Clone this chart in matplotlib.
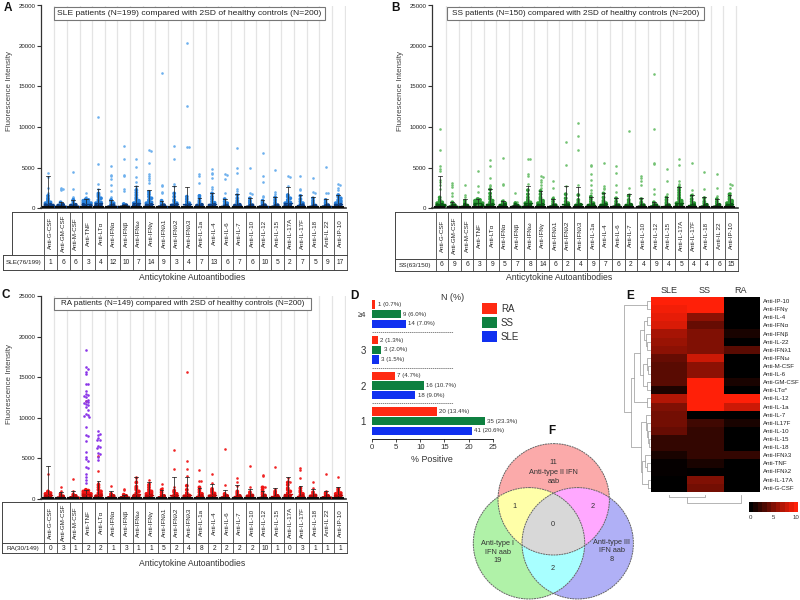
import numpy as np
import matplotlib
matplotlib.use('Agg')
import matplotlib.pyplot as plt
from matplotlib.colors import LinearSegmentedColormap
from matplotlib.patches import Circle, Rectangle

plt.rcParams['font.family'] = ['Liberation Sans', 'DejaVu Sans']

W, H = 800, 600

cyto_ab = ['Anti-G-CSF', 'Anti-GM-CSF', 'Anti-M-CSF', 'Anti-TNF', 'Anti-LTα', 'Anti-IFNα', 'Anti-IFNβ', 'Anti-IFNω',
           'Anti-IFNγ', 'Anti-IFNλ1', 'Anti-IFNλ2', 'Anti-IFNλ3', 'Anti-IL-1a', 'Anti-IL-4', 'Anti-IL-6', 'Anti-IL-7',
           'Anti-IL-10', 'Anti-IL-12', 'Anti-IL-15', 'Anti-IL-17A', 'Anti-IL-17F', 'Anti-IL-18', 'Anti-IL 22', 'Anti-IP-10']

sle_counts = [1, 6, 6, 3, 4, 12, 10, 7, 14, 9, 3, 4, 7, 13, 6, 7, 6, 10, 5, 2, 7, 5, 9, 17]
ss_counts = [6, 9, 6, 3, 9, 5, 7, 8, 14, 6, 2, 4, 9, 7, 6, 2, 4, 9, 4, 5, 4, 4, 6, 15]
ra_counts = [0, 3, 1, 2, 2, 1, 3, 1, 1, 5, 2, 4, 8, 2, 2, 2, 2, 10, 1, 0, 3, 1, 1, 1]

# upper end of the SD bars
sle_sd = [4000, 800, 1000, 1100, 2300, 1000, 400, 2700, 2200, 900, 2700, 2600, 1200, 1800, 1100, 1700, 1200, 1000, 1400, 2600, 1600, 1300, 1100, 1600]
ss_sd = [4000, 800, 1100, 1100, 2400, 900, 400, 2700, 2100, 1100, 2700, 2600, 1400, 1800, 1200, 1700, 1200, 800, 1400, 2600, 1600, 1300, 1100, 1600]
ra_sd = [4000, 800, 1000, 1100, 2200, 900, 400, 2700, 2000, 1100, 2700, 2700, 1300, 1800, 1100, 1700, 1200, 1000, 1300, 2700, 1600, 1200, 1000, 1500]

sle_mean = [450, 150, 200, 550, 600, 250, 120, 650, 550, 250, 450, 450, 300, 450, 250, 350, 300, 200, 300, 600, 350, 250, 250, 500]
ss_mean = [500, 150, 200, 600, 550, 250, 120, 600, 550, 250, 450, 450, 350, 450, 250, 350, 250, 200, 300, 600, 350, 250, 250, 550]
ra_mean = [450, 150, 200, 550, 500, 220, 120, 550, 500, 250, 400, 450, 350, 450, 250, 300, 250, 220, 280, 550, 350, 220, 220, 500]

# readings above the dense part of each column
sle_high = [[4300, 3800, 2500, 1900], [2500, 2400, 2300, 2200], [4500, 2400, 1400, 1200], [1800, 1300],
            [11200, 5400, 3000, 2400], [5200, 4100, 3900, 3600, 2900, 2100, 1400], [7600, 6000, 4100, 3900, 2400, 2100],
            [6000, 5100, 3800, 3200, 2700, 2500], [7100, 7000, 5600, 4200, 4000, 3700, 3500, 3100], [16700, 2800, 2700, 2000, 1800],
            [7700, 6100, 3000, 2700], [20400, 12600, 7500, 7500], [4200, 4000, 3100, 1600], [4800, 4300, 4200, 3700, 2600, 2300],
            [4200, 4100, 3600, 1800], [7400, 5000, 4300, 2300, 2100], [5000, 1800, 1700], [6800, 3900, 3200, 1500, 1300],
            [4700, 2000, 1700], [3900, 3800, 2700], [3900, 2300, 2200], [3700, 2000, 1900], [5100, 1800, 1800], [3000, 2900, 2500, 2200]]
ss_high = [[9800, 7100, 5200, 4800, 4600, 3500, 3200, 2800, 2400], [3100, 2900, 2600, 1900, 1500], [2900, 1600, 1400], [4600, 2700, 2000, 1200],
           [5900, 5200, 3700, 2900, 2700], [6200, 3000, 2800, 1000], [1800, 800, 700], [6100, 6000, 4200, 3900, 3000],
           [3900, 3800, 3500, 3200, 2800, 2500], [3300, 2500, 1300], [8200, 5300, 2700], [10500, 8900, 7100, 2800],
           [5300, 5200, 4200, 3500, 2900, 2200, 1800], [5500, 2700, 2500, 2300], [5200, 4300, 2800, 2000], [9500, 2500, 1700],
           [3900, 3700, 3300, 2900], [16600, 9700, 5500, 5400, 2400, 1700], [4800, 3300, 1700], [6000, 5300, 3300, 3000, 2800],
           [5500, 2200, 1700], [4500, 2400, 1300], [4200, 2500, 1500], [3000, 2900, 2500, 1900]]
ra_high = [[3100], [1400, 900], [2400, 900], [12000, 1100], [5300, 3400, 1900], [1600], [1200, 1100], [2700, 2500, 2200],
           [2300, 1900], [1800, 1300], [6000, 3700, 1500], [15600, 4700, 3700, 2800], [3500, 2200, 2200, 1500], [3100, 1900],
           [6100, 1700], [2500, 2000, 1600], [4000, 1400], [2900, 2800, 1500, 1400], [3900, 1200], [2500, 2200, 2100],
           [3800, 3500, 2500, 1500], [2000, 1300], [3000, 900, 800], [2700, 1300]]

# the positive anti-TNF / anti-LTa readings marked purple in panel C
ra_tnf_purple = [18400, 16300, 16000, 15600, 15400, 14200, 14100, 13300, 12900, 12800, 12700, 12500, 12200, 12000, 11900, 11800,
                 11700, 11500, 11300, 11000, 10400, 10300, 10200, 10100, 8800, 7800, 7700, 7100, 5700, 5200, 4900, 4700, 3900,
                 3800, 3000, 2700, 2300, 1900]
ra_lta_purple = [8300, 8000, 7800, 7500, 7300, 7200, 6500, 6400, 6300, 5600, 5500, 5200, 4800]

# dense part of each column, read roughly
sle_low = [[1500, 1200, 1000, 800, 700, 600, 500, 400, 350, 300, 200, 150, 100], [700, 550, 400, 300, 200, 150, 100, 80, 50],
           [1000, 800, 500, 400, 300, 200, 150, 100, 80], [1100, 1000, 900, 800, 700, 650, 600, 500, 450, 400, 300, 200],
           [1800, 1600, 1400, 1200, 1000, 800, 700, 600, 500, 400, 300, 200, 100], [1000, 800, 600, 450, 350, 250, 150, 100, 60],
           [500, 350, 250, 150, 100, 80, 50], [2200, 1900, 1600, 1300, 1100, 900, 800, 700, 600, 500, 400, 300, 200, 100],
           [2000, 1700, 1400, 1200, 1000, 800, 700, 600, 500, 400, 300, 200, 100], [900, 700, 500, 350, 250, 150, 100, 60],
           [1800, 1400, 1000, 800, 600, 500, 400, 300, 200, 100], [1400, 1100, 800, 600, 500, 350, 250, 150, 100],
           [1500, 1200, 900, 700, 500, 400, 300, 200, 100], [1800, 1400, 1100, 800, 650, 500, 400, 300, 200, 100],
           [1100, 800, 600, 450, 300, 200, 100, 60], [1600, 1200, 900, 700, 550, 400, 300, 200, 100],
           [1200, 900, 700, 500, 350, 250, 150, 80], [900, 700, 500, 350, 250, 150, 100, 60], [1300, 1000, 700, 500, 350, 250, 150, 80],
           [1600, 1400, 1200, 1000, 800, 700, 600, 500, 400, 300, 200, 100], [1500, 1100, 800, 600, 450, 350, 250, 150, 80],
           [1200, 900, 650, 450, 300, 200, 100, 60], [1000, 700, 500, 350, 250, 150, 100, 60],
           [1600, 1400, 1200, 1000, 900, 800, 700, 600, 500, 400, 300, 200, 100]]
ss_low = [[1300, 1000, 800, 700, 600, 500, 400, 350, 300, 200, 100], [700, 500, 350, 250, 150, 100, 60], [900, 600, 400, 300, 200, 100, 60],
          [1100, 1000, 900, 800, 700, 650, 600, 500, 450, 400, 300], [2300, 1800, 1400, 1100, 900, 700, 600, 500, 400, 300, 200, 100],
          [800, 600, 500, 400, 300, 200, 100], [600, 400, 300, 200, 150, 100, 60], [2200, 1700, 1300, 1000, 800, 700, 600, 500, 400, 300, 200],
          [2100, 1700, 1300, 1100, 900, 800, 700, 600, 500, 400, 300, 200], [1100, 800, 500, 350, 250, 150, 100],
          [1700, 1200, 800, 600, 450, 350, 250, 150, 80], [1600, 1000, 700, 500, 400, 300, 200, 100], [1400, 1100, 800, 600, 500, 400, 300, 200, 100],
          [1800, 1300, 900, 700, 600, 500, 400, 300, 200], [1200, 800, 500, 350, 250, 150, 80], [1500, 1000, 700, 500, 400, 300, 200, 100],
          [1100, 700, 500, 350, 250, 150, 80], [700, 500, 350, 250, 150, 100, 60], [1300, 1000, 700, 500, 350, 250, 150],
          [2500, 2200, 1900, 1600, 1300, 1100, 900, 800, 700, 600, 500, 400, 300], [1500, 1100, 800, 600, 450, 350, 250, 150],
          [1200, 800, 550, 400, 250, 150, 80], [1100, 800, 550, 400, 250, 150, 80], [1700, 1400, 1100, 900, 800, 700, 600, 500, 400, 300, 200]]
ra_low = [[900, 800, 700, 600, 500, 400, 300, 200, 100], [600, 400, 300, 200, 100, 60], [500, 350, 250, 150, 100, 60],
          [1100, 1000, 900, 800, 700, 650, 600, 500, 450, 400, 300, 200], [1700, 1400, 1100, 900, 700, 600, 500, 400, 300, 200, 100],
          [600, 450, 350, 250, 150, 100], [500, 350, 250, 150, 100, 60], [2000, 1500, 1300, 1100, 900, 700, 500, 400, 300, 200],
          [1700, 1400, 1100, 900, 800, 700, 600, 500, 400, 300, 200], [1100, 800, 500, 350, 250, 150, 100],
          [1000, 800, 600, 450, 350, 250, 150, 80], [1600, 1100, 700, 500, 400, 300, 200, 100], [1400, 1100, 800, 600, 450, 350, 250, 150],
          [1200, 1000, 800, 650, 500, 400, 300, 200, 100], [600, 450, 350, 250, 150, 80], [900, 700, 500, 350, 250, 150, 80],
          [800, 550, 400, 300, 200, 100, 60], [1400, 1100, 800, 550, 400, 250, 150], [900, 700, 500, 350, 250, 150, 80],
          [2000, 1700, 1300, 1100, 900, 700, 500, 400, 300, 200], [1300, 1000, 800, 600, 450, 350, 250, 150],
          [800, 550, 400, 300, 200, 100, 60], [700, 500, 350, 250, 150, 100, 60], [1200, 1000, 800, 700, 600, 500, 400, 300, 200]]

# panel D
n_groups = ['1', '2', '3', '≥4']
ra_n = [20, 7, 2, 1]
ra_pct = [13.4, 4.7, 1.3, 0.7]
ss_n = [35, 16, 3, 9]
ss_pct = [23.3, 10.7, 2.0, 6.0]
sle_n = [41, 18, 3, 14]
sle_pct = [20.6, 9.0, 1.5, 7.0]

# panel E
heat_rows = ['Anti-IP-10', 'Anti-IFNγ', 'Anti-IL-4', 'Anti-IFNα', 'Anti-IFNβ', 'Anti-IL-22', 'Anti-IFNλ1', 'Anti-IFNω', 'Anti-M-CSF',
             'Anti-IL-6', 'Anti-GM-CSF', 'Anti-LTα*', 'Anti-IL-12', 'Anti-IL-1a', 'Anti-IL-7', 'Anti-IL17F', 'Anti-IL-10', 'Anti-IL-15',
             'Anti-IL-18', 'Anti-IFNλ3', 'Anti-TNF', 'Anti-IFNλ2', 'Anti-IL-17A', 'Anti-G-CSF']
heat_cols = ['SLE', 'SS', 'RA']
heat_sle = [10, 9.5, 9, 8.5, 6.5, 6, 5.5, 4, 3.5, 3.5, 3.5, 1.2, 7, 5, 4.5, 4.5, 4, 2, 2, 1, 0.2, 0.2, 0, 0]
heat_ss = [10, 10, 5.5, 4, 5, 5, 5, 8, 5.5, 5.5, 10, 10, 10, 10, 0, 2.5, 2, 2, 2, 2, 1, 0.1, 5, 4.5]
heat_ra = [0, 0, 0, 0, 1, 0, 3.5, 0, 0, 0, 1, 0, 10, 8, 0, 1, 0, 0, 0, 2, 0, 0, 0, 0]
# (height, branch, branch); a plain number is a row
row_tree = (26, (3, 0, 1), (19, (16, (10, (6, (3, 2, 3), (4, 4, (3, 5, 6))), (7, (3, 7, (2, 8, 9)), (3, 10, 11))), (3, 12, 13)),
                            (9, (4, 14, (3, 15, (2, 16, (1, 17, 18)))), (8, (5, 19, (3, 20, 21)), (2, 22, 23)))))
col_tree = (8, (2, 0, 1), 2)

fig = plt.figure(figsize=(W / 100, H / 100), dpi=100)


def px_axes(left, top, right, bottom):
    return fig.add_axes([left / W, 1 - bottom / H, (right - left) / W, (bottom - top) / H])


# full figure overlay in pixel coordinates for tables, boxes and the venn
over = fig.add_axes([0, 0, 1, 1], zorder=5)
over.set_xlim(0, W)
over.set_ylim(H, 0)
over.axis('off')
over.patch.set_alpha(0)


def swarm(values, step=0.2, bin_size=300):
    offs = np.zeros(len(values))
    seen = {}
    for k, v in enumerate(values):
        b = int(v // bin_size)
        c = seen.get(b, 0)
        seen[b] = c + 1
        offs[k] = ((c + 1) // 2) * step * (1 if c % 2 else -1)
    return offs


def scatter_panel(left, top, right, bottom, first, dx, high, low, sd, mean, colors, extra=None):
    ax = px_axes(left, top, right, bottom)
    ax.set_xlim((left - first) / dx, (right - first) / dx)
    ax.set_ylim(0, 25000)
    ax.patch.set_alpha(0)
    for i in range(24):
        ax.axvline(i + 0.5, color='#e4e4e4', lw=0.9, zorder=0)
        ax.scatter(i + swarm(high[i], step=0.16, bin_size=170), high[i], s=3.5, color=colors[0], lw=0, zorder=2)
        vals = np.array(low[i])
        col = [colors[2] if v < 420 else colors[1] for v in vals]
        ax.scatter(i + swarm(low[i]), vals, s=7.5, c=col, lw=0, zorder=3)
        ax.plot([i, i], [0, sd[i]], color='#222222', lw=0.55, zorder=4)
        ax.plot([i - 0.15, i + 0.15], [sd[i], sd[i]], color='#222222', lw=0.55, zorder=4)
        ax.plot([i - 0.3, i + 0.3], [mean[i], mean[i]], color=colors[2], lw=0.9, zorder=4)
        ax.plot([i - 0.38, i + 0.38], [70, 70], color='#0a0a0a', lw=1.5, zorder=4)
    if extra is not None:
        for i, vals, c in extra:
            ax.scatter(i + swarm(vals, step=0.13, bin_size=420), vals, s=3.5, color=c, lw=0, zorder=3)
    ax.set_yticks(range(0, 25001, 5000))
    ax.set_xticks([])
    ax.tick_params(axis='y', length=3, width=0.8, labelsize=4.4, pad=1, color='#333333', labelcolor='#222222')
    for s in ['top', 'right']:
        ax.spines[s].set_visible(False)
    for s in ['left', 'bottom']:
        ax.spines[s].set_color('#333333')
    ax.spines['left'].set_linewidth(0.9)
    ax.spines['bottom'].set_linewidth(1.2)
    return ax


def table(x_head, x_row, x0, x1, y0, y1, y2, label, counts):
    edges = np.linspace(x0, x1, 25)
    c = '#444444'
    over.plot([x_head, x1], [y0, y0], color=c, lw=0.7)
    over.plot([x_row, x1], [y1, y1], color=c, lw=0.7)
    over.plot([x_row, x1], [y2, y2], color=c, lw=0.7)
    over.plot([x_head, x_head], [y0, y1], color=c, lw=0.7)
    over.plot([x_row, x_row], [y1, y2], color=c, lw=0.7)
    for e in edges:
        over.plot([e, e], [y0, y2], color=c, lw=0.6)
    over.text((x_row + x0) / 2, (y1 + y2) / 2, label, fontsize=4.6, ha='center', va='center', color='#222222')
    for i in range(24):
        xc = (edges[i] + edges[i + 1]) / 2
        over.text(xc, (y0 + y1) / 2, cyto_ab[i], rotation=90, fontsize=4.5, ha='center', va='center', color='#222222')
        over.text(xc, (y1 + y2) / 2, str(counts[i]), fontsize=4.8, ha='center', va='center', color='#222222')


def head_box(x0, x1, y0, y1, text, size):
    over.add_patch(Rectangle((x0, y0), x1 - x0, y1 - y0, fc='white', ec='#777777', lw=0.8))
    over.text((x0 + x1) / 2, (y0 + y1) / 2, text, fontsize=size, ha='center', va='center', color='#222222')


blues = ['#6db0ee', '#2a82dc', '#0b3f86']
greens = ['#74c274', '#2f9a38', '#075a12']
reds = ['#f02525', '#f01414', '#c00a0a']
purple = '#8a35e8'

scatter_panel(41, 5.5, 346, 208, 48, 12.62, sle_high, sle_low, sle_sd, sle_mean, blues)
scatter_panel(432, 5.5, 738, 208, 439.7, 12.6, ss_high, ss_low, ss_sd, ss_mean, greens)
scatter_panel(41, 296, 346, 498.7, 48, 12.62, ra_high, ra_low, ra_sd, ra_mean, reds,
              extra=[(3, ra_tnf_purple, purple), (4, ra_lta_purple, purple)])

table(11.7, 3.3, 44.3, 346.7, 211.7, 255, 270, 'SLE(76/199)', sle_counts)
table(395, 395, 435.7, 738, 211.7, 259.3, 270.7, 'SS(63/150)', ss_counts)
table(2, 2, 44.3, 346.7, 502.3, 543.3, 553.3, 'RA(30/149)', ra_counts)

head_box(54, 325, 7, 20, 'SLE patients (N=199) compared with 2SD of healthy controls (N=200)', 6.1)
head_box(447, 704, 7, 20, 'SS patients (N=150) compared with 2SD of healthy controls (N=200)', 5.9)
head_box(54, 311, 298, 309.5, 'RA patients (N=149) compared with 2SD of healthy controls (N=200)', 5.8)

for x, y in [(10, 91), (400, 91), (10, 384)]:
    over.text(x, y, 'Fluorescence Intensity', rotation=90, fontsize=5.8, ha='center', va='center', color='#444444')
for x, y in [(192, 277), (559, 277), (192, 564)]:
    over.text(x, y, 'Anticytokine Autoantibodies', fontsize=6.2, ha='center', va='center', color='#333333')

for txt, x, y in [('A', 8, 8), ('B', 395, 8), ('C', 6, 295), ('D', 354, 296), ('E', 630, 296), ('F', 552, 431)]:
    over.text(x, y, txt, fontsize=8.5, fontweight='bold', ha='center', va='center', color='#111111')

# panel D
axd = px_axes(371.7, 295, 493, 439)
ypos = np.arange(4)
axd.barh(ypos + 0.27, ra_pct, height=0.235, color='#ff2a12')
axd.barh(ypos, ss_pct, height=0.235, color='#0e8040')
axd.barh(ypos - 0.27, sle_pct, height=0.235, color='#1030f0')
for i in range(4):
    axd.text(ra_pct[i] + 0.5, i + 0.27, f'{ra_n[i]} ({ra_pct[i]}%)', fontsize=4.4, va='center', color='#333333')
    axd.text(ss_pct[i] + 0.5, i, f'{ss_n[i]} ({ss_pct[i]}%)', fontsize=4.4, va='center', color='#333333')
    axd.text(sle_pct[i] + 0.5, i - 0.27, f'{sle_n[i]} ({sle_pct[i]}%)', fontsize=4.4, va='center', color='#333333')
for i in range(3):
    axd.plot([0, 16.8], [i + 0.5, i + 0.5], color='#555555', lw=0.5, ls=(0, (2, 1)))
axd.set_xlim(0, 25)
axd.set_ylim(-0.5, 3.54)
axd.set_xticks(range(0, 26, 5))
axd.set_yticks(ypos)
axd.set_yticklabels(n_groups)
axd.tick_params(axis='x', length=2.5, width=0.5, labelsize=5.6, pad=1, labelcolor='#333333')
axd.tick_params(axis='y', length=0, pad=4, labelcolor='#333333')
for lab in axd.get_yticklabels()[:3]:
    lab.set_fontsize(7)
axd.get_yticklabels()[3].set_fontsize(5.5)
axd.set_xlabel('% Positive', fontsize=6.4, labelpad=3, color='#333333')
for s in ['top', 'right', 'left']:
    axd.spines[s].set_visible(False)
axd.spines['bottom'].set_linewidth(0.6)
axd.patch.set_alpha(0)
over.text(453, 298, 'N (%)', fontsize=6.5, ha='center', va='center', color='#333333')
for name, col, y0 in [('RA', '#ff2a12', 303), ('SS', '#0e8040', 317), ('SLE', '#1030f0', 331)]:
    over.add_patch(Rectangle((482, y0), 15, 11, fc=col, ec='none'))
    over.text(501, y0 + 5.5, name, fontsize=7, va='center', color='#333333')

# panel E
red_map = LinearSegmentedColormap.from_list('blackred', ['#000000', '#ff2008'])
axe = px_axes(650.7, 297, 759, 491.7)
axe.imshow(np.array([heat_sle, heat_ss, heat_ra]).T, cmap=red_map, vmin=0, vmax=10, aspect='auto')
axe.set_xticks(range(3))
axe.set_xticklabels(heat_cols)
axe.xaxis.tick_top()
axe.set_yticks(range(24))
axe.set_yticklabels(heat_rows)
axe.yaxis.tick_right()
axe.tick_params(axis='x', length=0, labelsize=6.5, pad=1.5, labelcolor='#333333')
axe.tick_params(axis='y', length=0, labelsize=4.4, pad=3, labelcolor='#222222')
for s in axe.spines.values():
    s.set_visible(False)

row_h = (491.7 - 297) / 24
col_w = (759 - 650.7) / 3


def draw_rows(node):
    if not isinstance(node, tuple):
        return 297 + (node + 0.5) * row_h, 0
    h, a, b = node
    ya, ha = draw_rows(a)
    yb, hb = draw_rows(b)
    x = 650 - h
    over.plot([650 - ha, x, x, 650 - hb], [ya, ya, yb, yb], color='#a0a0a0', lw=0.55)
    return (ya + yb) / 2, h


def draw_cols(node):
    if not isinstance(node, tuple):
        return 650.7 + (node + 0.5) * col_w, 0
    h, a, b = node
    xa, ha = draw_cols(a)
    xb, hb = draw_cols(b)
    y = 495 + h
    over.plot([xa, xa, xb, xb], [495 + ha, y, y, 495 + hb], color='#a0a0a0', lw=0.55)
    return (xa + xb) / 2, h


draw_rows(row_tree)
draw_cols(col_tree)

axc = px_axes(749, 502, 798, 512)
axc.imshow(np.arange(0, 11).reshape(1, -1), cmap=red_map, vmin=0, vmax=10, aspect='auto', extent=[-0.3, 10.4, 0, 1])
axc.set_yticks([])
axc.set_xticks([0, 5, 10])
axc.tick_params(axis='x', length=0, labelsize=4.4, pad=2, labelcolor='#333333')
for s in axc.spines.values():
    s.set_visible(False)

# panel F
venn_centers = [(553.7, 499.3), (529, 543.3), (577.7, 543.3)]
venn_r = 55.7
region_colors = {1: '#fbaaaa', 2: '#b0f2a8', 4: '#b0b0f6', 3: '#ffffa8', 5: '#ffa8ff', 6: '#a8ffff', 7: '#d8d8d8'}
gx, gy = np.meshgrid(np.arange(465, 640, 0.5), np.arange(435, 605, 0.5))
code = np.zeros(gx.shape, dtype=int)
for k, (cx, cy) in enumerate(venn_centers):
    code += ((gx - cx) ** 2 + (gy - cy) ** 2 <= venn_r ** 2).astype(int) << k
img = np.ones(gx.shape + (4,))
img[..., 3] = 0
for c, col in region_colors.items():
    img[code == c] = matplotlib.colors.to_rgba(col)
over.imshow(img, extent=[465, 640, 605, 435], interpolation='nearest', aspect='auto', zorder=1)
over.set_xlim(0, W)
over.set_ylim(H, 0)
for cx, cy in venn_centers:
    over.add_patch(Circle((cx, cy), venn_r, fc='none', ec='#666666', lw=0.7, ls=(0, (2, 0.7)), zorder=2))
venn_text = [(553, 462, '11'), (553.7, 477, 'Anti-type II IFN\naab'), (514, 507, '1'), (592.7, 507, '2'), (553, 524, '0'),
             (497.7, 552, 'Anti-type I\nIFN aab\n19'), (611.7, 551, 'Anti-type III\nIFN aab\n8'), (553, 568, '2')]
for x, y, t in venn_text:
    over.text(x, y, t, fontsize=5.3, ha='center', va='center', color='#333333', linespacing=1.25, zorder=3)

fig.savefig('out.png', dpi=100)
